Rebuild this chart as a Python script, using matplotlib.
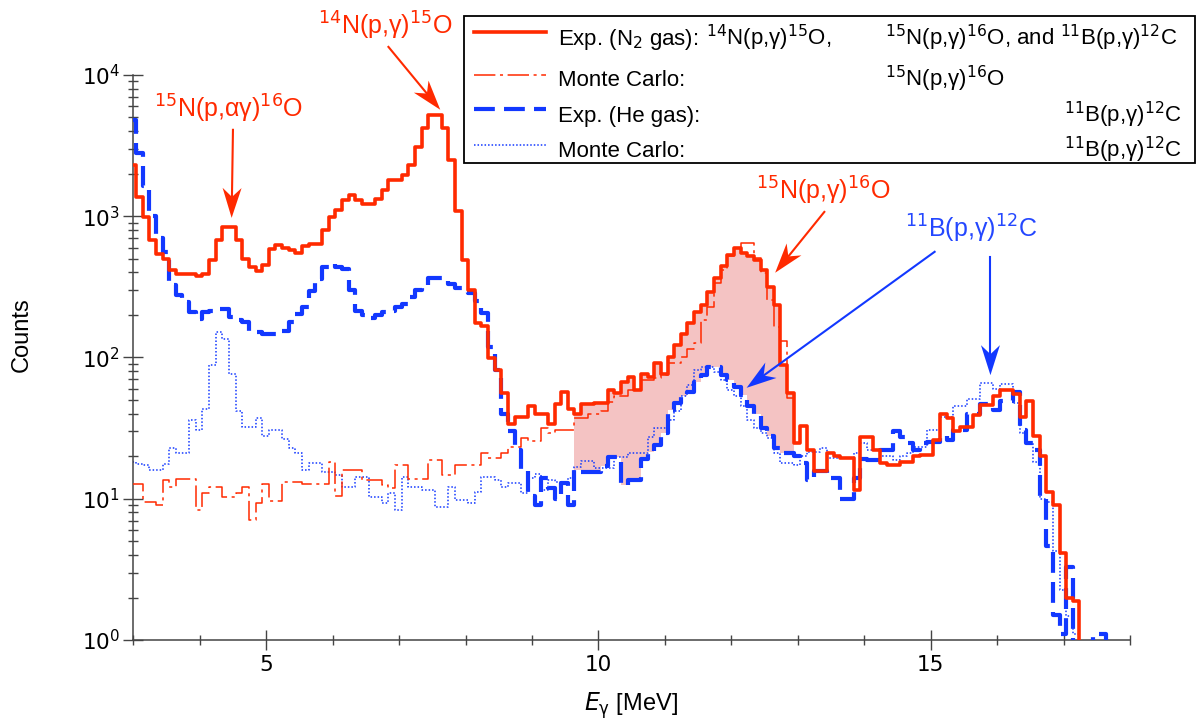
import numpy as np
import matplotlib
matplotlib.use('Agg')
import matplotlib.pyplot as plt
from matplotlib.lines import Line2D
from matplotlib.patches import Rectangle
from matplotlib.ticker import FixedLocator, MultipleLocator, LogLocator, NullFormatter

plt.rcParams['font.family'] = ['Liberation Sans', 'DejaVu Sans']
plt.rcParams['mathtext.fontset'] = 'dejavusans'

# gamma energy bins (MeV), 0.1 MeV wide
bin_start = 2.94
bin_width = 0.1

# experiment with N2 gas (counts per bin)
red_exp = [
    2300, 1370, 990, 683, 544, 500, 418, 392, 392, 392,
    375, 388, 493, 683, 840, 840, 683, 500, 437, 409,
    449, 590, 622, 600, 580, 552, 612, 640, 640, 796,
    990, 1100, 1313, 1409, 1298, 1230, 1230, 1334, 1546, 1800,
    1800, 1952, 2300, 3100, 4180, 5200, 5200, 4180, 2500, 1090,
    491, 301, 175, 166, 99, 82, 56, 34, 38, 38,
    45, 40, 40, 34, 47, 57, 43, 40, 47, 47,
    48, 48, 59, 56, 67, 73, 59, 77, 73, 92,
    77, 101, 123, 147, 175, 210, 236, 293, 364, 441,
    533, 594, 548, 519, 490, 417, 318, 236, 89, 56,
    25, 33, 22, 15.6, 15.6, 21, 20, 19.4, 19.4, 11.5,
    27.5, 27.5, 22, 18, 17.4, 17.4, 18.3, 18.3, 20, 20.4,
    20.4, 26, 40, 37, 30, 32, 32, 39, 46, 46,
    53, 59, 59, 55, 38, 49, 28, 20, 11.2, 9.0,
    4.1, 2.0, 1.9, 0.5, 0.5, 0.5, 0.5, 0.5, 0.5, 0.5,
    0.5,
]

# Monte Carlo, 15N(p,g)16O
red_mc = [
    12.8, 12.8, 9.5, 9.5, 9.0, 13.5, 12.2, 13.9, 13.9, 13.9,
    8.3, 10.9, 12.2, 12.2, 10.3, 10.3, 10.9, 12.2, 7.1, 9.3,
    12.8, 9.6, 9.6, 13.2, 13.2, 13.2, 12.8, 12.8, 12.8, 12.8,
    18.3, 10.5, 16, 16, 16, 13.5, 13.5, 13.5, 12.5, 12.0,
    17.3, 17.3, 13.9, 13.9, 13.9, 18.8, 18.8, 14.7, 14.7, 17.3,
    17.3, 17.3, 17.3, 21, 19.5, 19.5, 21, 23.4, 23.4, 27,
    25.6, 25.6, 31.6, 29, 30.7, 30.7, 30.7, 37, 37, 40,
    40, 42, 48.7, 53, 53, 59, 59, 69, 69, 72,
    75, 91, 91, 101, 115, 126, 185, 229, 336, 417,
    519, 594, 644, 644, 505, 395, 256, 165, 130, 52,
]

# experiment with He gas
blue_exp = [
    4800, 2800, 1624, 1000, 700, 560, 324, 275, 246, 210,
    188, 210, 215, 221, 221, 193, 183, 178, 155, 151,
    147, 147, 147, 155, 178, 204, 228, 298, 361, 437,
    461, 437, 420, 300, 215, 200, 190, 200, 210, 215,
    228, 240, 270, 300, 320, 365, 365, 360, 330, 310,
    290, 287, 250, 206, 119, 82, 40, 30, 22, 16,
    10.4, 9, 14, 12, 10, 13, 9, 16, 15.5, 15.5,
    15.5, 17, 19.9, 19.9, 12.5, 13.6, 13.6, 19, 21.6, 24,
    29, 42.6, 48, 53, 57, 67, 75, 86, 86, 75,
    69, 62, 54, 45, 40, 31.6, 28, 23, 21, 21,
    20, 18, 13.6, 15.6, 15.6, 14, 14, 10, 10, 14,
    19, 18.8, 18.8, 22, 22, 30, 27.5, 25, 22, 25,
    25.4, 25.4, 28, 26, 30.7, 30.7, 40, 40, 46.8, 46.8,
    42.6, 49, 49, 57, 30.7, 25, 22, 10, 4.6, 1.5,
    1.1, 3.3, 0.5, 0.5, 0.5, 1.1, 1.1, 0.5, 0.5, 0.5,
    0.5,
]

# Monte Carlo, 11B(p,g)12C
blue_mc = [
    18.3, 17.5, 17.3, 16, 16, 17.7, 22.7, 21, 21, 36,
    30.6, 43.5, 88, 151, 136, 77, 42, 32, 32, 37,
    28, 30.6, 30.6, 26.7, 23, 21, 15.9, 17.8, 17.8, 15.5,
    15.5, 14.7, 12.2, 12.2, 14.3, 14.3, 10.3, 10.3, 9.3, 10.9,
    8.3, 14.3, 12.2, 12.2, 11.5, 11.5, 8.8, 8.8, 12.2, 9.8,
    9.8, 9.3, 11.2, 14.3, 14.3, 13.5, 12.2, 13, 13, 11,
    14, 15, 11.5, 13.5, 13.2, 13.2, 14, 16.9, 18.6, 18.6,
    16.4, 16.4, 16.4, 19.9, 19.9, 21, 21, 21, 27.5, 31.6,
    31.6, 36, 42, 53, 64, 82, 86, 86, 79, 69,
    59, 53, 45, 36, 31.6, 29, 26.8, 21, 17.8, 17.8,
    17.4, 20, 21.4, 21.4, 23, 19.3, 19.3, 19.3, 19.3, 21,
    24.7, 22, 22, 20, 20, 18.8, 20, 21, 23.4, 23.4,
    30.7, 30.7, 38, 38, 45, 45, 51, 51, 66, 66,
    60, 64.6, 64.6, 47.5, 29, 25, 18.3, 10, 9.5, 4.3,
    2.26, 1.47, 1.1, 0.5, 0.5, 0.5, 0.5, 0.5, 0.5, 0.5,
    0.5,
]

# bins shaded between the two experimental spectra (15N(p,g)16O region)
fill_first, fill_last = 67, 99

RED = '#ff2a00'
BLUE = '#1238ff'
BLUE_TXT = '#2447ff'
PINK = '#f4c3c3'
AXIS = '#444444'

edges = bin_start + bin_width * np.arange(len(red_exp) + 1)


def draw_hist(ax, counts, **kw):  # histogram outline as a step line
    y = np.append(counts, counts[-1])
    ax.step(edges[:len(y)], y, where='post', **kw)


def draw_arrow(ax, start, tip, col):  # thin shaft with a notched, filled head
    to_px = ax.transData
    p0 = to_px.transform(start)
    p1 = to_px.transform(tip)
    d = (p1 - p0) / np.hypot(*(p1 - p0))
    n = np.array([-d[1], d[0]])
    head_len, half_w, notch = 30.0, 9.5, 9.0
    back = p1 - d * head_len
    inner = p1 - d * (head_len - notch)
    head = np.array([p1, back + n * half_w, inner, back - n * half_w])
    head = to_px.inverted().transform(head)
    shaft = to_px.inverted().transform(np.array([p0, inner]))
    ax.plot(shaft[:, 0], shaft[:, 1], color=col, lw=1.5, clip_on=False, zorder=6)
    ax.fill(head[:, 0], head[:, 1], color=col, lw=0, clip_on=False, zorder=6)


fig = plt.figure(figsize=(12.03, 7.25), dpi=100)
ax = fig.add_axes([0.1108, 0.1172, 0.8285, 0.7794])

# shaded 15N(p,g)16O excess
sl = slice(fill_first, fill_last + 1)
top = np.append(np.array(red_exp)[sl], red_exp[fill_last])
bot = np.append(np.array(blue_exp)[sl], blue_exp[fill_last])
ax.fill_between(edges[fill_first:fill_last + 2], bot, top, step='post',
                color=PINK, lw=0, zorder=1)

draw_hist(ax, blue_mc, color=BLUE, lw=1.1, dashes=(1, 1.3), zorder=2)
draw_hist(ax, red_mc, color=RED, lw=1.1, dashes=(14, 3, 2, 3), zorder=3)
draw_hist(ax, blue_exp, color=BLUE, lw=3.0, dashes=(5, 2.2), zorder=4)
draw_hist(ax, red_exp, color=RED, lw=2.6, zorder=5)

ax.set_xlim(3, 18)
ax.set_yscale('log')
ax.set_ylim(1, 1e4)

ax.xaxis.set_major_locator(FixedLocator([5, 10, 15]))
ax.xaxis.set_minor_locator(MultipleLocator(1))
ax.yaxis.set_major_locator(LogLocator(base=10))
ax.yaxis.set_minor_locator(LogLocator(base=10, subs=range(2, 10)))
ax.yaxis.set_minor_formatter(NullFormatter())
ax.tick_params(which='major', direction='inout', length=15, width=1, color=AXIS,
               labelsize=15.5, labelfontfamily='DejaVu Sans')
ax.tick_params(axis='x', which='major', pad=3)
ax.tick_params(axis='y', which='major', pad=2)
ax.tick_params(which='minor', direction='inout', length=7.5, width=1, color=AXIS)
for side in ['top', 'right']:
    ax.spines[side].set_visible(False)
for side in ['left', 'bottom']:
    ax.spines[side].set_color(AXIS)
    ax.spines[side].set_linewidth(1.1)

W, H = 1203.0, 725.0
fig.text(22 / W, 1 - 335 / H, 'Counts', rotation=90, ha='center', va='center', fontsize=17)
fig.text(631 / W, 1 - 706 / H, r'$E_{\mathrm{\gamma}}$ [MeV]', ha='center', va='center',
         fontsize=17)

# peak labels with arrows
arrows = [
    ((4.50, 4090), (4.48, 973), RED),
    ((6.84, 15800), (7.62, 5670), RED),
    ((13.40, 1073), (12.66, 398), RED),
    ((15.06, 560), (12.23, 61), BLUE),
    ((15.90, 516), (15.90, 75), BLUE),
]
for start, tip, col in arrows:
    draw_arrow(ax, start, tip, col)

labels = [
    (4.43, 4975, r'$^{15}$N(p,αγ)$^{16}$O', RED),
    (6.79, 19270, r'$^{14}$N(p,γ)$^{15}$O', RED),
    (13.38, 1321, r'$^{15}$N(p,γ)$^{16}$O', RED),
    (15.61, 703, r'$^{11}$B(p,γ)$^{12}$C', BLUE_TXT),
]
for x, y, s, col in labels:
    ax.text(x, y, s, color=col, fontsize=18, ha='center', va='baseline', clip_on=False)

# legend box drawn in figure pixels
fig.add_artist(Rectangle((464 / W, 1 - 163 / H), (1195 - 464) / W, (163 - 16) / H,
                         transform=fig.transFigure, facecolor='white', edgecolor='black',
                         lw=1.3, zorder=10))
rows = [
    (32, 45, dict(color=RED, lw=2.6)),
    (75, 86, dict(color=RED, lw=1.1, dashes=(14, 3, 2, 3))),
    (109, 122, dict(color=BLUE, lw=3.0, dashes=(5, 2.2))),
    (145, 157, dict(color=BLUE, lw=1.1, dashes=(1, 1.3))),
]
for ly, ty, style in rows:
    fig.add_artist(Line2D([474 / W, 546 / W], [1 - ly / H, 1 - ly / H],
                          transform=fig.transFigure, zorder=11, **style))

leg_fs = 16
def leg_text(x, y, s, ha='left'):
    fig.text(x / W, 1 - y / H, s, ha=ha, va='baseline', fontsize=leg_fs, zorder=12)

leg_text(558, 45, 'Exp. (N$_2$ gas):')
leg_text(706, 45, r'$^{14}$N(p,γ)$^{15}$O,')
leg_text(885, 45, r'$^{15}$N(p,γ)$^{16}$O, and $^{11}$B(p,γ)$^{12}$C')
leg_text(558, 86, 'Monte Carlo:')
leg_text(885, 86, r'$^{15}$N(p,γ)$^{16}$O')
leg_text(558, 122, 'Exp. (He gas):')
leg_text(1182, 122, r'$^{11}$B(p,γ)$^{12}$C', ha='right')
leg_text(558, 157, 'Monte Carlo:')
leg_text(1182, 157, r'$^{11}$B(p,γ)$^{12}$C', ha='right')

fig.savefig('out.png', dpi=100)
